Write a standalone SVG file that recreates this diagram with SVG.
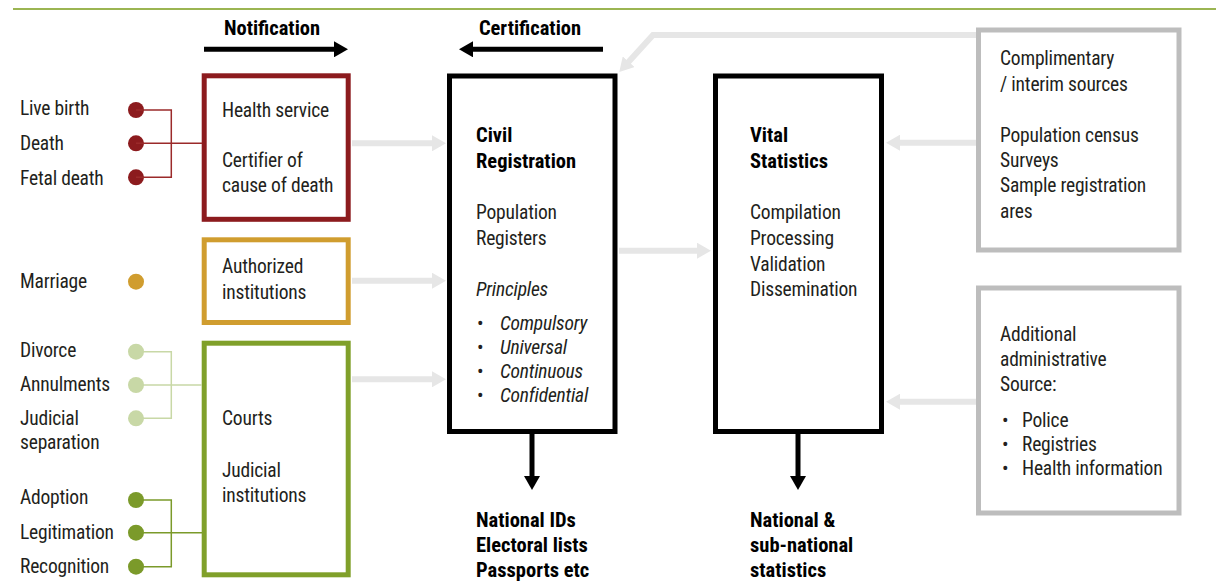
<svg xmlns="http://www.w3.org/2000/svg" width="1216" height="588" viewBox="0 0 1216 588">
<style>
text{font-family:"Liberation Sans Narrow","Roboto Condensed","Liberation Sans",sans-serif;font-size:19.5px;letter-spacing:-0.2px;fill:#231f20}
.b{font-weight:bold;fill:#000;font-size:20.5px;letter-spacing:0}
.i{font-style:italic}
.gray{stroke:#e6e6e6;stroke-width:6;fill:none}
.blk{stroke:#000;stroke-width:5;fill:none}
.box{fill:#fff;stroke-width:5}
.thin{fill:none;stroke-width:1.5}
</style>
<defs>
<marker id="ga" viewBox="0 0 14 16" refX="1" refY="8" markerWidth="14" markerHeight="16" markerUnits="userSpaceOnUse" orient="auto"><path d="M0,0 L14,8 L0,16 z" fill="#e6e6e6"/></marker>
<marker id="ba" viewBox="0 0 14 16" refX="1" refY="8" markerWidth="14" markerHeight="16" markerUnits="userSpaceOnUse" orient="auto"><path d="M0,0 L14,8 L0,16 z" fill="#000"/></marker>
</defs>
<rect width="1216" height="588" fill="#fff"/>
<line x1="13" y1="9" x2="1216" y2="9" stroke="#9bb552" stroke-width="2"/>

<g id="flow-labels">
<text class="b" x="272" y="35" text-anchor="middle">Notification</text>
<text class="b" x="530" y="35" text-anchor="middle">Certification</text>
</g>

<g id="events">
<text x="20" y="115">Live birth</text>
<text x="20" y="150">Death</text>
<text x="20" y="185">Fetal death</text>
<text x="20" y="288">Marriage</text>
<text x="20" y="357">Divorce</text>
<text x="20" y="391">Annulments</text>
<text x="20" y="425">Judicial</text>
<text x="20" y="449">separation</text>
<text x="20" y="504">Adoption</text>
<text x="20" y="539">Legitimation</text>
<text x="20" y="573">Recognition</text>
<g fill="#8c1b1e"><circle cx="136" cy="110" r="8"/><circle cx="136" cy="143.3" r="8"/><circle cx="136" cy="177.3" r="8"/></g>
<circle cx="136" cy="281.7" r="8" fill="#d09d2f"/>
<g fill="#c8d8a6"><circle cx="136" cy="351.7" r="8"/><circle cx="136" cy="385" r="8"/><circle cx="136" cy="418.3" r="8"/></g>
<g fill="#7b9a2a"><circle cx="136" cy="500" r="8"/><circle cx="136" cy="532.7" r="8"/><circle cx="136" cy="566.7" r="8"/></g>
</g>

<g id="health-service">
<rect class="box" x="204.2" y="75.8" width="144" height="143.5" stroke="#8c1b1e"/>
<text x="222" y="116.7">Health service</text>
<text x="222" y="166.7">Certifier of</text>
<text x="222" y="191.7">cause of death</text>
</g>

<g id="authorized-institutions">
<rect class="box" x="204.2" y="239.8" width="144" height="82.7" stroke="#d09d2f"/>
<text x="222" y="273.3">Authorized</text>
<text x="222" y="299.3">institutions</text>
</g>

<g id="courts">
<rect class="box" x="204.2" y="343.2" width="144" height="231.6" stroke="#80a02a"/>
<text x="222" y="425">Courts</text>
<text x="222" y="476.7">Judicial</text>
<text x="222" y="501.7">institutions</text>
</g>

<g id="civil-registration">
<rect class="box" x="449.5" y="76" width="165.5" height="355.5" stroke="#000"/>
<text class="b" x="476" y="141.7">Civil</text>
<text class="b" x="476" y="168.3">Registration</text>
<text x="476" y="219.3">Population</text>
<text x="476" y="245">Registers</text>
<text class="i" x="476" y="296">Principles</text>
<text x="477" y="330">•</text><text class="i" x="500" y="330">Compulsory</text>
<text x="477" y="354">•</text><text class="i" x="500" y="354">Universal</text>
<text x="477" y="378">•</text><text class="i" x="500" y="378">Continuous</text>
<text x="477" y="402">•</text><text class="i" x="500" y="402">Confidential</text>
</g>

<g id="vital-statistics">
<rect class="box" x="715.5" y="76" width="166" height="355.5" stroke="#000"/>
<text class="b" x="750" y="141.7">Vital</text>
<text class="b" x="750" y="168.3">Statistics</text>
<text x="750" y="219.3">Compilation</text>
<text x="750" y="245">Processing</text>
<text x="750" y="270.5">Validation</text>
<text x="750" y="296">Dissemination</text>
</g>

<g id="complimentary-sources">
<rect class="box" x="978.5" y="30" width="200.5" height="220" stroke="#bdbdbd"/>
<text x="1000" y="65">Complimentary</text>
<text x="1000" y="91">/ interim sources</text>
<text x="1000" y="141.5">Population census</text>
<text x="1000" y="166.7">Surveys</text>
<text x="1000" y="192">Sample registration</text>
<text x="1000" y="218">ares</text>
</g>

<g id="additional-sources">
<rect class="box" x="978.5" y="288" width="200.5" height="225" stroke="#bdbdbd"/>
<text x="1000" y="341">Additional</text>
<text x="1000" y="366">administrative</text>
<text x="1000" y="391">Source:</text>
<text x="1002" y="427">•</text><text x="1022" y="427">Police</text>
<text x="1002" y="451">•</text><text x="1022" y="451">Registries</text>
<text x="1002" y="475">•</text><text x="1022" y="475">Health information</text>
</g>

<g id="outputs">
<text class="b" x="476" y="527">National IDs</text>
<text class="b" x="476" y="552">Electoral lists</text>
<text class="b" x="476" y="577">Passports etc</text>
<text class="b" x="750" y="527">National &amp;</text>
<text class="b" x="750" y="552">sub-national</text>
<text class="b" x="750" y="577">statistics</text>
</g>

<g id="connectors">
<path class="thin" stroke="#9b2a2a" d="M136,110 H171.3 V177.3 H136 M136,143.3 H202"/>
<path class="thin" stroke="#c8d8a6" d="M136,351.7 H171.3 V418.3 H136 M136,385 H202"/>
<path class="thin" stroke="#7b9a2a" d="M136,500 H171.3 V566.7 H136 M136,532.7 H202"/>
<line class="blk" x1="204" y1="49.3" x2="335" y2="49.3" marker-end="url(#ba)"/>
<line class="blk" x1="603" y1="49.3" x2="472" y2="49.3" marker-end="url(#ba)"/>
<line class="gray" x1="352" y1="143.3" x2="433" y2="143.3" marker-end="url(#ga)"/>
<line class="gray" x1="352" y1="280.7" x2="433" y2="280.7" marker-end="url(#ga)"/>
<line class="gray" x1="352" y1="379.3" x2="433" y2="379.3" marker-end="url(#ga)"/>
<line class="gray" x1="619" y1="250.7" x2="698" y2="250.7" marker-end="url(#ga)"/>
<line class="gray" x1="976" y1="142.7" x2="899" y2="142.7" marker-end="url(#ga)"/>
<line class="gray" x1="976" y1="401.7" x2="899" y2="401.7" marker-end="url(#ga)"/>
<polyline class="gray" points="976,35 653,35 628,62.5" marker-end="url(#ga)"/>
<line class="blk" x1="532" y1="434" x2="532" y2="477" marker-end="url(#ba)"/>
<line class="blk" x1="798" y1="434" x2="798" y2="477" marker-end="url(#ba)"/>
</g>
</svg>
